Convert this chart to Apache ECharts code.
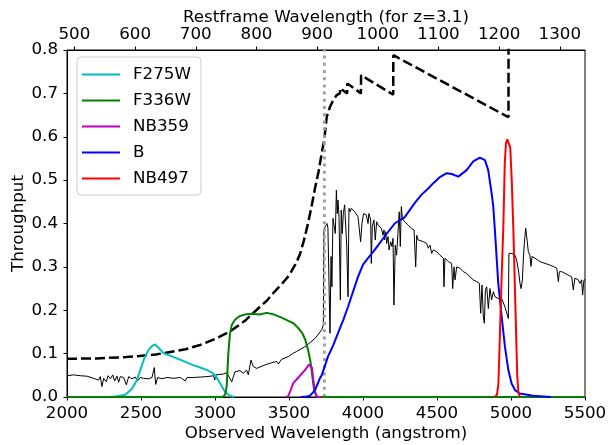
<!DOCTYPE html>
<html><head><meta charset="utf-8">
<script src="https://cdn.jsdelivr.net/npm/echarts@6/dist/echarts.min.js"></script>
<style>html,body{margin:0;padding:0;background:#fff}#c{width:609px;height:445px}</style>
</head><body><div id="c"></div>
<script>
const redshift = 3.1;
const lymanLimit = 3739;
const topTicks = [500,600,700,800,900,1000,1100,1200,1300];
const filterNames = ['F275W','F336W','NB359','B','NB497'];

const spectrum = [
[2000,0.049],[2045,0.051],[2090,0.049],[2135,0.048],[2180,0.043],[2214,0.039],[2225,0.047],[2236,0.024],[2248,0.043],[2266,0.035],
[2277,0.049],[2293,0.042],[2309,0.051],[2322,0.037],[2338,0.048],[2349,0.034],[2360,0.047],[2383,0.045],[2401,0.028],[2417,0.047],
[2439,0.042],[2462,0.046],[2477,0.037],[2495,0.045],[2518,0.043],[2552,0.042],[2574,0.045],[2590,0.068],[2599,0.029],[2613,0.045],
[2642,0.042],[2676,0.045],[2721,0.043],[2766,0.045],[2799,0.037],[2811,0.045],[2856,0.045],[2901,0.046],[2946,0.047],[2991,0.049],
[2998,0.039],[3007,0.051],[3058,0.053],[3079,0.056],[3101,0.043],[3113,0.035],[3135,0.058],[3146,0.055],[3169,0.061],[3191,0.055],
[3214,0.062],[3225,0.051],[3243,0.085],[3259,0.070],[3282,0.066],[3293,0.070],[3338,0.074],[3383,0.079],[3417,0.082],[3428,0.076],
[3450,0.087],[3495,0.093],[3529,0.101],[3552,0.105],[3563,0.101],[3608,0.116],[3676,0.135],[3721,0.155],[3732,0.166],
[3736,0.385],[3745,0.393],[3757,0.400],[3763,0.389],[3770,0.393],[3777,0.147],[3784,0.324],[3790,0.254],[3797,0.412],[3808,0.408],
[3813,0.377],[3820,0.477],[3826,0.423],[3831,0.454],[3838,0.416],[3847,0.224],[3853,0.431],[3860,0.377],[3867,0.423],[3876,0.443],
[3883,0.439],[3890,0.347],[3899,0.231],[3905,0.435],[3914,0.427],[3921,0.435],[3932,0.431],[3944,0.427],[3955,0.431],[3966,0.416],
[3977,0.412],[3984,0.358],[3993,0.400],[4004,0.423],[4011,0.423],[4022,0.420],[4034,0.400],[4040,0.423],[4052,0.408],[4056,0.308],
[4063,0.393],[4074,0.408],[4083,0.362],[4092,0.404],[4101,0.397],[4113,0.393],[4124,0.389],[4135,0.373],[4142,0.385],[4146,0.362],
[4153,0.381],[4160,0.354],[4169,0.370],[4176,0.339],[4187,0.358],[4196,0.347],[4203,0.366],[4209,0.212],[4218,0.350],[4227,0.327],
[4236,0.377],[4245,0.427],[4252,0.347],[4259,0.439],[4266,0.412],[4281,0.404],[4304,0.397],[4327,0.389],[4345,0.385],[4356,0.300],
[4363,0.373],[4372,0.362],[4383,0.366],[4408,0.358],[4430,0.354],[4441,0.343],[4453,0.350],[4464,0.331],[4475,0.339],[4498,0.335],
[4520,0.327],[4543,0.320],[4547,0.254],[4554,0.320],[4577,0.312],[4599,0.308],[4606,0.250],[4615,0.300],[4622,0.270],[4633,0.300],
[4655,0.297],[4678,0.289],[4700,0.285],[4723,0.277],[4745,0.270],[4768,0.266],[4786,0.262],[4795,0.193],[4804,0.258],[4813,0.185],
[4820,0.170],[4827,0.247],[4836,0.254],[4847,0.204],[4858,0.250],[4869,0.224],[4881,0.243],[4892,0.231],[4903,0.235],[4914,0.227],
[4926,0.224],[4937,0.227],[4948,0.224],[4959,0.208],[4971,0.212],[4982,0.181],[4986,0.331],[5005,0.331],[5027,0.327],[5038,0.316],
[5050,0.293],[5061,0.262],[5068,0.250],[5077,0.270],[5083,0.316],[5090,0.354],[5099,0.389],[5106,0.370],[5117,0.335],[5128,0.327],
[5135,0.301],[5142,0.324],[5162,0.320],[5196,0.312],[5230,0.308],[5264,0.304],[5286,0.301],[5309,0.297],[5320,0.266],[5327,0.289],
[5342,0.289],[5365,0.285],[5387,0.281],[5410,0.277],[5421,0.247],[5432,0.274],[5455,0.270],[5466,0.262],[5477,0.270],[5484,0.235],
[5493,0.270],[5500,0.270]
];

const igm = [
[2000,0.088],[2200,0.089],[2400,0.092],[2600,0.098],[2800,0.110],[2900,0.120],[3000,0.134],[3100,0.151],[3200,0.175],[3300,0.207],
[3350,0.222],[3400,0.242],[3450,0.260],[3500,0.280],[3550,0.310],[3575,0.330],[3600,0.360],[3625,0.395],[3650,0.435],[3675,0.480],
[3700,0.520],[3720,0.560],[3739,0.595],[3755,0.646],[3777,0.669],[3800,0.685],[3822,0.696],[3844,0.700],[3845,0.712],[3893,0.700],
[3894,0.723],[3986,0.700],[3987,0.742],[4204,0.697],[4205,0.788],[4983,0.645],[4984,1.0],[5500,1.0]
];

const f275w = [
[2280,0],[2330,0.001],[2394,0.005],[2439,0.019],[2473,0.039],[2495,0.062],[2522,0.089],[2550,0.108],[2575,0.118],[2595,0.121],
[2620,0.113],[2651,0.101],[2690,0.096],[2720,0.092],[2780,0.084],[2856,0.073],[2900,0.068],[2946,0.062],[2980,0.056],[3000,0.050],
[3020,0.040],[3040,0.028],[3060,0.016],[3080,0.008],[3100,0.003],[3130,0]
];
const f336w = [
[2000,0],[3050,0],[3068,0.005],[3079,0.024],[3090,0.100],[3101,0.145],[3113,0.166],[3135,0.178],[3165,0.186],[3200,0.190],
[3250,0.192],[3300,0.190],[3350,0.194],[3400,0.190],[3450,0.183],[3500,0.175],[3530,0.170],[3560,0.160],[3590,0.147],[3610,0.132],
[3630,0.107],[3645,0.082],[3658,0.047],[3670,0.015],[3685,0.002],[3700,0],[5500,0]
];
const nb359 = [
[3480,0],[3495,0.002],[3510,0.015],[3529,0.032],[3563,0.045],[3608,0.062],[3635,0.075],[3645,0.078],[3655,0.068],[3664,0.040],
[3676,0.012],[3690,0],[3720,0]
];
const bband = [
[3580,0],[3620,0.001],[3642,0.003],[3676,0.016],[3707,0.042],[3721,0.050],[3763,0.093],[3800,0.120],[3831,0.147],[3867,0.178],
[3899,0.208],[3966,0.277],[4000,0.305],[4034,0.320],[4079,0.339],[4146,0.370],[4214,0.400],[4250,0.408],[4281,0.414],[4349,0.447],
[4394,0.466],[4439,0.480],[4475,0.493],[4520,0.507],[4565,0.516],[4600,0.514],[4644,0.508],[4700,0.523],[4745,0.543],[4790,0.552],
[4824,0.546],[4846,0.523],[4869,0.470],[4880,0.440],[4892,0.380],[4914,0.262],[4937,0.185],[4959,0.116],[4982,0.062],[5004,0.031],
[5027,0.016],[5060,0.008],[5150,0.003],[5270,0]
];
const nb497 = [
[4890,0],[4905,0.005],[4915,0.030],[4926,0.154],[4937,0.280],[4948,0.390],[4958,0.540],[4966,0.585],[4975,0.594],[4985,0.590],
[4995,0.575],[5005,0.500],[5016,0.385],[5025,0.270],[5034,0.154],[5042,0.050],[5050,0.010],[5060,0]
];

const FONT = 'DejaVu Sans';
const FS = 16.7;
function lineSeries(name, data, color, width, type, z) {
  return {name, type:'line', data, symbol:'none', showSymbol:false, animation:false, z,
    lineStyle:{color, width, type: type || 'solid'}, itemStyle:{color}};
}
const chart = echarts.init(document.getElementById('c'), null, {renderer:'canvas'});
chart.setOption({
  animation:false,
  backgroundColor:'#fff',
  textStyle:{fontFamily:FONT},
  grid:{left:67, right:24, top:50, bottom:48, show:true, borderColor:'#000', borderWidth:1,
        containLabel:false, outerBoundsMode:'none'},
  xAxis:[{
    type:'value', position:'bottom', min:2000, max:5500, interval:500,
    name:'Observed Wavelength (angstrom)', nameLocation:'middle', nameGap:28, nameMoveOverlap:false,
    nameTextStyle:{fontSize:FS, color:'#000', fontFamily:FONT},
    axisLine:{show:true, lineStyle:{color:'#000', width:1}},
    axisTick:{show:true, length:3.5, lineStyle:{color:'#000'}},
    axisLabel:{fontSize:FS, color:'#000', fontFamily:FONT, margin:8, formatter:v=>String(v)},
    splitLine:{show:false}
  },{
    type:'value', position:'top', min:2000/(1+redshift), max:5500/(1+redshift),
    name:'Restframe Wavelength (for z=3.1)', nameLocation:'middle', nameGap:23.5, nameMoveOverlap:false,
    nameTextStyle:{fontSize:FS, color:'#000', fontFamily:FONT},
    axisLine:{show:true, lineStyle:{color:'#000', width:1}},
    axisTick:{show:true, length:3.5, lineStyle:{color:'#000'}, customValues:topTicks},
    axisLabel:{fontSize:FS, color:'#000', fontFamily:FONT, margin:7, customValues:topTicks, formatter:v=>String(Math.round(v))},
    splitLine:{show:false}
  }],
  yAxis:{
    type:'value', min:0, max:0.8, interval:0.1,
    name:'Throughput', nameLocation:'middle', nameGap:40, nameMoveOverlap:false,
    nameTextStyle:{fontSize:FS, color:'#000', fontFamily:FONT},
    axisLine:{show:true, lineStyle:{color:'#000', width:1}},
    axisTick:{show:true, length:3.5, lineStyle:{color:'#000'}},
    axisLabel:{fontSize:FS, color:'#000', fontFamily:FONT, margin:9, formatter:v=>v.toFixed(1)},
    splitLine:{show:false}
  },
  legend:{
    data:filterNames, orient:'vertical', left:77, top:57,
    icon:'rect', itemWidth:38, itemHeight:2, itemGap:9,
    padding:[9,10,8,5],
    backgroundColor:'rgba(255,255,255,0.8)', borderColor:'#cccccc', borderWidth:1, borderRadius:4,
    textStyle:{fontSize:FS, color:'#000', fontFamily:FONT, padding:[0,0,0,8]}
  },
  series:[
    lineSeries('spectrum', spectrum, '#000', 1, 'solid', 2),
    lineSeries('igm', igm, '#000', 2.5, [10,4], 3),
    lineSeries('lyman', [[lymanLimit,0],[lymanLimit,0.8]], '#a0a0a0', 3, [3,4.2], 4),
    lineSeries('F275W', f275w, '#00bfbf', 2, 'solid', 5),
    lineSeries('F336W', f336w, '#008000', 2, 'solid', 5),
    lineSeries('NB359', nb359, '#bf00bf', 2, 'solid', 5),
    lineSeries('B', bband, '#0000ff', 2, 'solid', 5),
    lineSeries('NB497', nb497, '#ff0000', 2, 'solid', 5)
  ]
});
</script></body></html>
